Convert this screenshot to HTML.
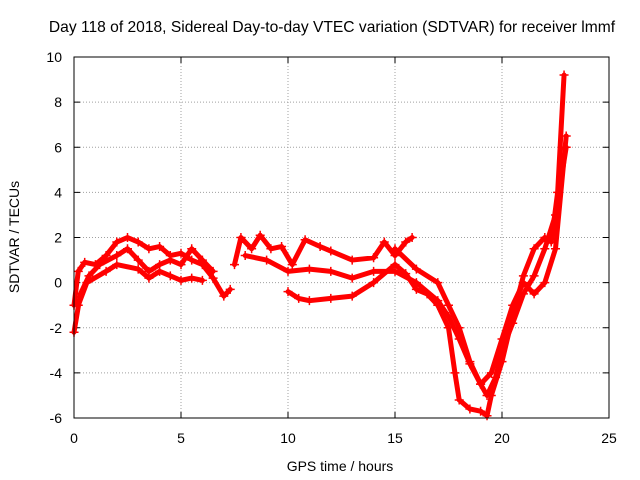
<!DOCTYPE html>
<html><head><meta charset="utf-8"><style>
body{margin:0;background:#fff;}
svg{display:block;font-family:"Liberation Sans",sans-serif;}
</style></head><body>
<svg id="chart" width="640" height="480">
<text x="332" y="32" font-size="15.6" text-anchor="middle">Day 118 of 2018, Sidereal Day-to-day VTEC variation (SDTVAR) for receiver lmmf</text>
<text x="340" y="471" font-size="14" text-anchor="middle">GPS time / hours</text>
<text transform="translate(19,237) rotate(-90)" font-size="14" text-anchor="middle">SDTVAR / TECUs</text>
<g id="grid"></g><g id="ticks"></g><g id="marks"></g>
<rect x="74" y="57" width="535" height="361" fill="none" stroke="#000" stroke-width="1"/>
</svg>
<script>
const xTicks=[0,5,10,15,20,25];
const yTicks=[-6,-4,-2,0,2,4,6,8,10];
const trackA=[[0,-1],[0.2,0.5],[0.5,0.9],[1,0.8],[1.5,1.2],[2,1.8],[2.5,2.0],[3,1.8],[3.5,1.5],[4,1.6],[4.5,1.2],[5,1.3],[5.5,1.0],[6,0.8],[6.5,0.2],[7,-0.6],[7.3,-0.3]];
const trackB=[[0,-2.2],[0.3,-0.5],[0.7,0.3],[1.2,0.8],[2,1.2],[2.5,1.5],[3,1.0],[3.5,0.5],[4,0.8],[4.5,1.0],[5,0.8],[5.5,1.5],[6,1.0],[6.5,0.5]];
const trackC=[[0.2,-1],[0.6,0],[1.5,0.5],[2,0.8],[3,0.6],[3.5,0.2],[4,0.5],[4.5,0.3],[5,0.1],[5.5,0.2],[6,0.1]];
const trackD=[[7.5,0.8],[7.8,2],[8.3,1.5],[8.7,2.1],[9.2,1.5],[9.7,1.6],[10.2,0.8],[10.8,1.9],[11.5,1.6],[12,1.4],[13,1.0],[14,1.1],[14.5,1.8],[15,1.2],[15.5,1.8],[15.8,2.0]];
const trackE=[[8,1.2],[9,1.0],[10,0.5],[11,0.6],[12,0.5],[13,0.2],[14,0.5],[15,0.5],[16,0.0],[17,-0.8],[17.5,-1.5],[18,-2.5],[18.5,-3.6],[19,-4.5],[19.5,-4.0],[20,-2.5],[20.5,-1.0],[21,0],[21.5,-0.5],[22,0.0],[22.5,1.5],[23,6.5]];
const trackF=[[10,-0.4],[10.5,-0.7],[11,-0.8],[12,-0.7],[13,-0.6],[14,0],[15,0.8],[15.5,0.4],[16,-0.3],[16.5,-0.5],[17,-1.0],[17.5,-2.0],[17.8,-4.0],[18,-5.2],[18.5,-5.6],[19,-5.7],[19.3,-5.9],[19.5,-5.0],[20,-3.5],[20.5,-1.5],[21,0.3],[21.5,1.5],[22,2.0],[22.3,1.8],[22.6,4],[22.9,9.2]];
const trackG=[[15,1.5],[16,0.6],[17,0.0],[17.5,-1],[18,-2.0],[18.5,-3.5],[19,-4.5],[19.3,-5.0],[19.7,-4.2],[20,-3.0],[20.5,-1.8],[21,-0.5],[21.5,0.3],[22,1.5],[22.5,3.0],[23,6]];
const tracks=[trackA,trackB,trackC,trackD,trackE,trackF,trackG];
const NS="http://www.w3.org/2000/svg";
const X0=74,X1=609,Y0=418,Y1=57;
function xs(v){return X0+(v-0)/(25-0)*(X1-X0);}
function ys(v){return Y0-(v+6)/(16)*(Y0-Y1);}
function mk(t,a){const e=document.createElementNS(NS,t);for(const k in a)e.setAttribute(k,a[k]);return e;}
const grid=document.getElementById('grid'),ticks=document.getElementById('ticks'),marks=document.getElementById('marks');
xTicks.forEach(v=>{const x=xs(v);
 if(v>0&&v<25){const g=mk('line',{x1:x,x2:x,y1:Y1,y2:Y0,stroke:'#a0a0a0','stroke-dasharray':'1,2'});grid.appendChild(g);}
 ticks.appendChild(mk('line',{x1:x,x2:x,y1:Y0,y2:Y0-6,stroke:'#000'}));ticks.appendChild(mk('line',{x1:x,x2:x,y1:Y1,y2:Y1+6,stroke:'#000'}));
 const t=mk('text',{x:x,y:443,'font-size':14,'text-anchor':'middle'});t.textContent=v;ticks.appendChild(t);});
yTicks.forEach(v=>{const y=ys(v);
 if(v>-6&&v<10){const g=mk('line',{x1:X0,x2:X1,y1:y,y2:y,stroke:'#a0a0a0','stroke-dasharray':'1,2'});grid.appendChild(g);}
 ticks.appendChild(mk('line',{x1:X0,x2:X0+6,y1:y,y2:y,stroke:'#000'}));ticks.appendChild(mk('line',{x1:X1,x2:X1-6,y1:y,y2:y,stroke:'#000'}));
 const t=mk('text',{x:62,y:y+5,'font-size':14,'text-anchor':'end'});t.textContent=v;ticks.appendChild(t);});
tracks.forEach(tr=>{
 const p=mk('polyline',{points:tr.map(d=>xs(d[0])+','+ys(d[1])).join(' '),fill:'none',stroke:'#ff0000','stroke-width':5,'stroke-linejoin':'round','stroke-linecap':'round'});
 marks.appendChild(p);
 tr.forEach(d=>{const x=xs(d[0]),y=ys(d[1]);
  const m=mk('path',{d:`M${x-4.5},${y}H${x+4.5}M${x},${y-4.5}V${y+4.5}`,stroke:'#ff0000','stroke-width':1.5});
  marks.appendChild(m);});
});
</script>
</body></html>
